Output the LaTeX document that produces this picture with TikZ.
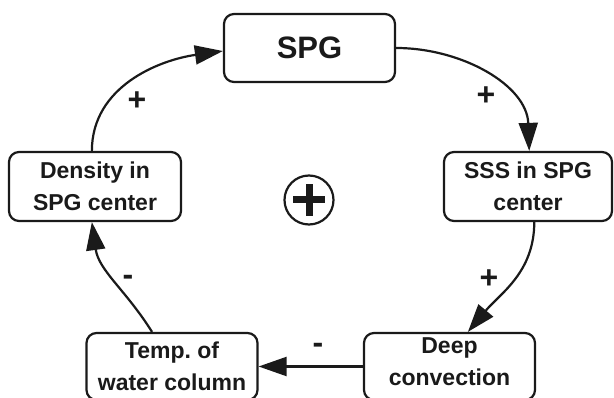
\documentclass[tikz,border=0pt]{standalone}
\usepackage{fontspec}
\setmainfont{Liberation Sans}
\usetikzlibrary{arrows.meta}
\definecolor{inkgray}{HTML}{1a1a1a}
\tikzset{
	% ------- every something
	every path/.style={
		line width=2.2pt,
	},
	every node/.style={
		font=\bfseries\fontsize{23}{32}\selectfont,
	},
	% ------- custom
	vector/.style={
		-{Triangle[length=28pt,width=19pt]},
	},
	box/.style={
		draw, rounded corners=10pt, align=center,
		minimum width=171pt, minimum height=68pt, inner sep=0pt,
	},
	sign/.style={
		font=\bfseries\fontsize{32}{32}\selectfont,
	},
}

\begin{document}
\begin{tikzpicture}[x=1pt, y=-1pt, inkgray]

% bounding box %{{{1

	\useasboundingbox (0,0) rectangle (614,398);

% boxes %{{{1

	\node[box, font=\bfseries\fontsize{31}{32}\selectfont] (SPG) at (309.5,48) {SPG};
	\node[box, minimum width=168pt, minimum height=69pt] (SSS) at (528,186.5) {SSS in SPG\\center};
	\node[box, minimum height=67pt, text depth=10pt] (Deep) at (449.5,366.5) {Deep\\convection};
	\node[box, minimum height=67pt] (Temp) at (172,366.5) {Temp.\ of\\water column};
	\node[box, minimum width=172pt, minimum height=69pt] (Dens) at (95,186.5) {Density in\\SPG center};

% arrows %{{{1

	\draw[vector] (SPG.east) to[out=0, in=92] (SSS.88);
	\draw[vector] (SSS.-80) to[out=-90, in=50] (Deep.62);
	\draw[vector] (Deep.west) -- (Temp.east);
	\draw[vector] (Temp.120) to[out=122, in=-82] (Dens.-95);
	\draw[vector] (Dens.95) to[out=90, in=188] (SPG.182);

% signs %{{{1

	\node[sign] (S1) at (486,96) {+};
	\node[sign] (S2) at (489,279) {+};
	\node[sign] (S3) at (318,348) {-};
	\node[sign] (S4) at (128,280) {-};
	\node[sign] (S5) at (137,101) {+};

% loop mark %{{{1

	\node[draw, circle, minimum size=49pt, inner sep=0pt] (Loop) at (309,200) {};
	\draw[line width=7pt] ([xshift=-16pt]Loop.center) -- ([xshift=16pt]Loop.center);
	\draw[line width=7pt] ([yshift=-16pt]Loop.center) -- ([yshift=16pt]Loop.center);

% closing %{{{1

\end{tikzpicture}
\end{document}
